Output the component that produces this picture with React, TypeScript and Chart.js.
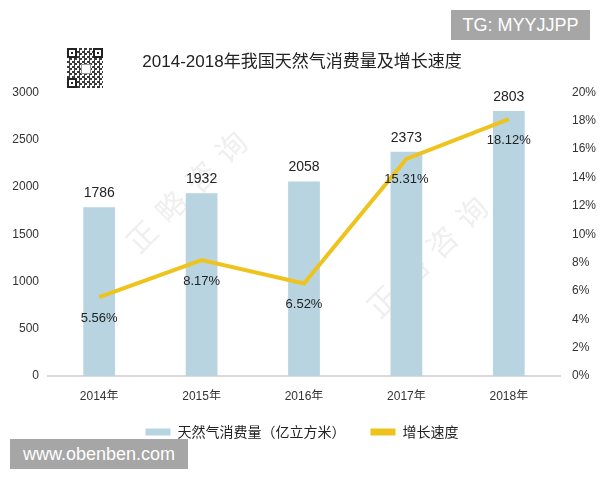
import React, { useEffect, useRef } from "react";
import { Chart, registerables } from "chart.js";

Chart.register(...registerables);

const titleText = "2014-2018年我国天然气消费量及增长速度";
const categories = ["2014年", "2015年", "2016年", "2017年", "2018年"];
const consumption = [1786, 1932, 2058, 2373, 2803];
const growth = [5.56, 8.17, 6.52, 15.31, 18.12];
const growthLabels = ["5.56%", "8.17%", "6.52%", "15.31%", "18.12%"];
const barName = "天然气消费量（亿立方米）";
const lineName = "增长速度";
const watermark = "正略咨询";

const SANS = "'Liberation Sans', 'Noto Sans CJK SC', sans-serif";
const CJK = "'Noto Sans CJK SC', 'Liberation Sans', sans-serif";

const valueLabels = {
  id: "valueLabels",
  afterDatasetsDraw(chart: any) {
    const ctx = chart.ctx;
    ctx.save();
    ctx.textAlign = "center";
    ctx.fillStyle = "#222";
    ctx.font = `14px ${SANS}`;
    ctx.textBaseline = "alphabetic";
    chart.getDatasetMeta(0).data.forEach((el: any, i: number) => {
      ctx.fillText(String(consumption[i]), el.x, el.y - 10);
    });
    ctx.font = `13px ${SANS}`;
    ctx.textBaseline = "middle";
    chart.getDatasetMeta(1).data.forEach((el: any, i: number) => {
      ctx.fillText(growthLabels[i], el.x, el.y + 21);
    });
    ctx.restore();
  },
};

const faintMark = {
  id: "faintMark",
  beforeDatasetsDraw(chart: any) {
    const { ctx, chartArea } = chart;
    const w = chartArea.right - chartArea.left;
    const h = chartArea.bottom - chartArea.top;
    ctx.save();
    ctx.fillStyle = "rgba(190,190,190,0.25)";
    ctx.font = `30px ${CJK}`;
    ctx.textAlign = "center";
    ctx.textBaseline = "middle";
    const spots = [
      [0.27, 0.35],
      [0.74, 0.58],
    ];
    spots.forEach(([fx, fy]) => {
      ctx.save();
      ctx.translate(chartArea.left + fx * w, chartArea.top + fy * h);
      ctx.rotate(-Math.PI / 4);
      const chars = watermark.split("");
      chars.forEach((c, k) => {
        ctx.fillText(c, (k - (chars.length - 1) / 2) * 42, 0);
      });
      ctx.restore();
    });
    ctx.restore();
  },
};

export default function App() {
  const ref = useRef<HTMLCanvasElement | null>(null);

  useEffect(() => {
    if (!ref.current) return;
    const chart = new Chart(ref.current, {
      type: "bar",
      data: {
        labels: categories,
        datasets: [
          {
            type: "bar",
            label: barName,
            data: consumption,
            backgroundColor: "#B7D4E0",
            borderWidth: 0,
            categoryPercentage: 1,
            barPercentage: 0.31,
            yAxisID: "y",
            order: 2,
          },
          {
            type: "line",
            label: lineName,
            data: growth,
            borderColor: "#EEC31E",
            backgroundColor: "#EEC31E",
            borderWidth: 4,
            pointRadius: 0,
            tension: 0,
            yAxisID: "y1",
            order: 1,
          } as any,
        ],
      },
      options: {
        animation: false,
        responsive: false,
        layout: { padding: { left: 4, right: 0, top: 0, bottom: 31 } },
        plugins: {
          title: {
            display: true,
            text: titleText,
            color: "#222",
            font: { size: 17, family: SANS, weight: "normal" },
            padding: { top: 52, bottom: 20 },
          },
          legend: {
            position: "bottom",
            labels: {
              boxWidth: 25,
              boxHeight: 7,
              padding: 25,
              color: "#222",
              font: { size: 14, family: CJK },
              sort: (a: any, b: any) => a.datasetIndex - b.datasetIndex,
              generateLabels: (ch: any) =>
                Chart.defaults.plugins.legend.labels
                  .generateLabels(ch)
                  .map((it: any) => ({ ...it, lineWidth: 0 })),
            },
          },
          tooltip: { enabled: false },
        },
        scales: {
          x: {
            grid: { display: false, drawTicks: false },
            border: { display: true, color: "#D9D9D9", width: 2 },
            ticks: {
              color: "#333",
              padding: 13,
              font: { size: 12, family: SANS },
            },
            afterFit: (s: any) => {
              s.height = 24;
            },
          },
          y: {
            position: "left",
            min: 0,
            max: 3000,
            grid: { display: false, drawTicks: false },
            border: { display: false },
            ticks: {
              stepSize: 500,
              color: "#333",
              padding: 9,
              font: { size: 12, family: SANS },
              callback: (v: any) => String(v),
            },
            afterFit: (s: any) => {
              s.width = 44;
            },
          },
          y1: {
            position: "right",
            min: 0,
            max: 20,
            grid: { display: false, drawTicks: false },
            border: { display: false },
            ticks: {
              stepSize: 2,
              color: "#333",
              padding: 12,
              font: { size: 12, family: SANS },
              callback: (v: any) => `${v}%`,
            },
            afterFit: (s: any) => {
              s.width = 40;
            },
          },
        },
      } as any,
      plugins: [faintMark, valueLabels],
    });
    return () => chart.destroy();
  }, []);

  const finder = (left: number, top: number): React.CSSProperties => ({
    position: "absolute",
    left,
    top,
    width: 6,
    height: 6,
    border: "2px solid #222",
    background: "#fff",
    boxShadow: "inset 0 0 0 2px #fff, inset 0 0 0 6px #222",
  });

  return (
    <div
      style={{
        position: "fixed",
        left: 0,
        top: 0,
        width: 600,
        height: 480,
        background: "#fff",
      }}
    >
      <canvas ref={ref} width={600} height={480} style={{ display: "block" }} />
      <div
        style={{
          position: "absolute",
          left: 67,
          top: 48,
          width: 36,
          height: 40,
          background:
            "repeating-conic-gradient(#3a3a3a 0 25%, #ffffff 0 50%) 0 0/5px 5px",
        }}
      >
        <div style={finder(0, 0)} />
        <div style={finder(26, 0)} />
        <div style={finder(0, 30)} />
        <div
          style={{
            position: "absolute",
            left: 14,
            top: 16,
            width: 8,
            height: 8,
            background: "#fff",
            border: "1px solid #999",
          }}
        />
      </div>
      <div
        style={{
          position: "absolute",
          left: 451,
          top: 10,
          width: 139,
          height: 30,
          background: "#A6A6A6",
          color: "#fff",
          font: "18px 'Liberation Sans', Arial, sans-serif",
          lineHeight: "30px",
          textAlign: "center",
        }}
      >
        TG: MYYJJPP
      </div>
      <div
        style={{
          position: "absolute",
          left: 10,
          top: 439,
          width: 178,
          height: 30,
          background: "#A6A6A6",
          color: "#fff",
          font: "18px 'Liberation Sans', Arial, sans-serif",
          lineHeight: "30px",
          textAlign: "center",
        }}
      >
        www.obenben.com
      </div>
    </div>
  );
}
